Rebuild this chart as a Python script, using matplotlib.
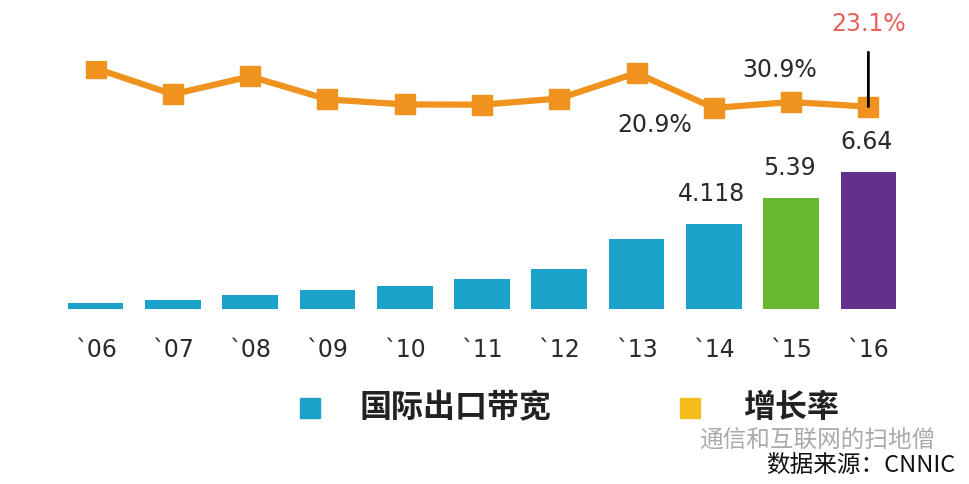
import matplotlib.pyplot as plt
from matplotlib.patches import Rectangle

plt.rcParams['font.family'] = ['DejaVu Sans', 'Noto Sans CJK SC']

years = ["`06", "`07", "`08", "`09", "`10", "`11", "`12", "`13", "`14", "`15", "`16"]
bandwidth = [0.30, 0.45, 0.66, 0.90, 1.12, 1.45, 1.93, 3.41, 4.118, 5.39, 6.64]
growth = [87.0, 43.7, 73.6, 35.3, 26.8, 26.4, 36.7, 79.3, 20.9, 30.9, 23.1]
bar_colors = ["#1BA2CA"] * 9 + ["#68B72E", "#65308A"]
legend_labels = ["国际出口带宽", "增长率"]

fig = plt.figure(figsize=(9.7, 4.84), dpi=100)
W, H = 970, 484

def fig_box(x0, y_top, x1, y_bot):
    return [x0 / W, 1 - y_bot / H, (x1 - x0) / W, (y_bot - y_top) / H]

x = list(range(len(years)))

# bars (bandwidth)
ax = fig.add_axes(fig_box(57, 165, 907, 309))
ax.bar(x, bandwidth, width=0.72, color=bar_colors)
ax.set_xlim(-0.5, len(years) - 0.5)
ax.set_ylim(0, 7)
ax.set_yticks([])
ax.set_xticks(x)
ax.set_xticklabels(years, fontsize=17, color="#2a2a2a")
ax.tick_params(axis="x", length=0, pad=21)
for s in ax.spines.values():
    s.set_visible(False)

for i in (8, 9, 10):
    ax.annotate(f"{bandwidth[i]:g}", xy=(i, bandwidth[i]), xytext=(-2, 30),
                textcoords="offset pixels", ha="center", va="center",
                fontsize=17, color="#2a2a2a")

# growth line
ax2 = fig.add_axes(fig_box(57, 60.6, 907, 120.5))
ax2.patch.set_alpha(0)
ax2.plot(x, growth, color="#F0921E", lw=4.5, marker="s", markersize=15)
ax2.set_xlim(-0.5, len(years) - 0.5)
ax2.set_ylim(0, 100)
ax2.axis("off")

ax2.annotate("20.9%", xy=(8, growth[8]), xytext=(-59, -17), textcoords="offset pixels",
             ha="center", va="center", fontsize=17, color="#2a2a2a")
ax2.annotate("30.9%", xy=(9, growth[9]), xytext=(-11, 32), textcoords="offset pixels",
             ha="center", va="center", fontsize=17, color="#2a2a2a")
ax2.annotate("23.1%", xy=(10, growth[10]), xytext=(0, 83), textcoords="offset pixels",
             ha="center", va="center", fontsize=17, color="#E9605A",
             arrowprops=dict(arrowstyle="-", color="black", lw=2, shrinkA=10, shrinkB=0))

# legend
fig.add_artist(Rectangle((300 / W, 1 - 418 / H), 20 / W, 20 / H, color="#1BA2CA",
                         transform=fig.transFigure))
fig.text(360 / W, 1 - 408 / H, legend_labels[0], fontsize=23, fontweight="bold",
         family=["Noto Sans CJK SC"], va="center", color="#222222")
fig.add_artist(Rectangle((680 / W, 1 - 418 / H), 20 / W, 20 / H, color="#F5BE1E",
                         transform=fig.transFigure))
fig.text(743 / W, 1 - 408 / H, legend_labels[1], fontsize=23, fontweight="bold",
         family=["Noto Sans CJK SC"], va="center", color="#222222")

# watermark and source
fig.text(935 / W, 1 - 440 / H, "通信和互联网的扫地僧", fontsize=17, ha="right", va="center",
         family=["Noto Sans CJK SC"], color="#AAAAAA")
fig.text(955 / W, 1 - 465 / H, "数据来源：CNNIC", fontsize=17, ha="right", va="center",
         family=["Noto Sans CJK SC"], color="#111111")

fig.savefig("out.png", dpi=100, facecolor="white")
